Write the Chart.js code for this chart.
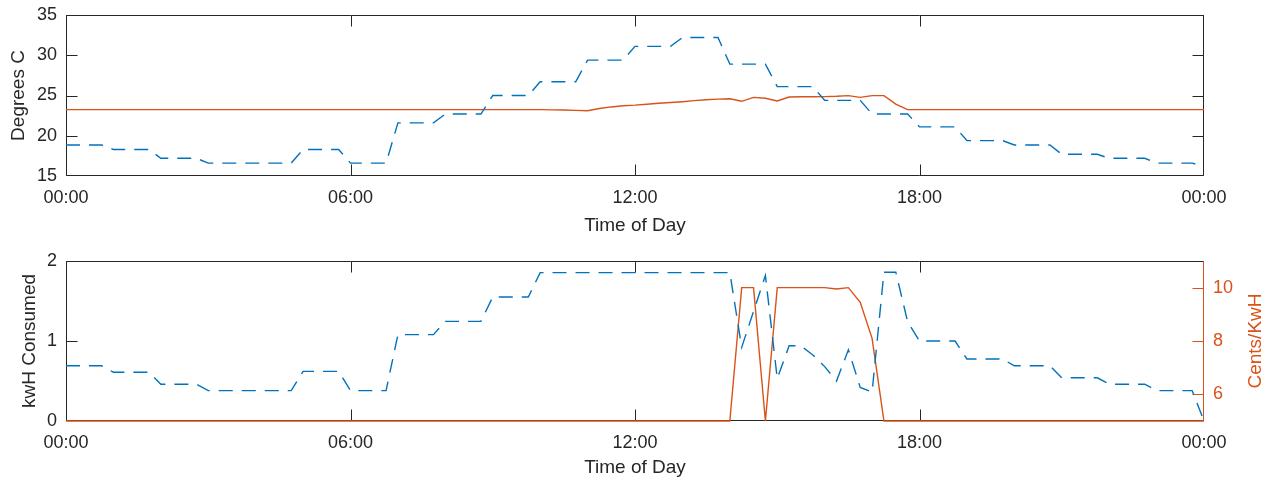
<!DOCTYPE html>
<html>
<head>
<meta charset="utf-8">
<title>Temperature, consumption and price over a day</title>
<script src="https://cdn.jsdelivr.net/npm/chart.js@4.4.1/dist/chart.umd.min.js"></script>
<style>
  html, body { margin: 0; padding: 0; background: #fff; }
  .panel { position: absolute; left: 0; width: 1271px; }
  #topPanel { top: 0; height: 240px; }
  #bottomPanel { top: 240px; height: 243px; }
</style>
</head>
<body>
<div class="panel" id="topPanel"><canvas id="tempChart"></canvas></div>
<div class="panel" id="bottomPanel"><canvas id="energyChart"></canvas></div>
<script>
/* ─── DATA (15-minute samples, 00:00 → 24:00) ─── */
const timeTicks = ['00:00', '06:00', '12:00', '18:00', '00:00'];
const priceTicks = [6, 8, 10];

// outdoor temperature, degrees C (blue dashed, top)
const outdoorTemp = [
  18.85, 18.85, 18.85, 18.85, 18.3, 18.3, 18.3, 18.3,     // 00-02
  17.2, 17.2, 17.2, 17.2, 16.6, 16.6, 16.6, 16.6,         // 02-04
  16.6, 16.6, 16.6, 16.6, 18.3, 18.3, 18.3, 18.3,         // 04-06
  16.6, 16.6, 16.6, 16.6, 21.6, 21.6, 21.6, 21.6,         // 06-08
  22.7, 22.7, 22.7, 22.7, 25.0, 25.0, 25.0, 25.0,         // 08-10
  26.7, 26.7, 26.7, 26.7, 29.4, 29.4, 29.4, 29.4,         // 10-12
  31.1, 31.1, 31.1, 31.1, 32.2, 32.2, 32.2, 32.2,         // 12-14
  28.9, 28.9, 28.9, 28.9, 26.1, 26.1, 26.1, 26.1,         // 14-16
  24.4, 24.4, 24.4, 24.4, 22.7, 22.7, 22.7, 22.7,         // 16-18
  21.1, 21.1, 21.1, 21.1, 19.4, 19.4, 19.4, 19.4,         // 18-20
  18.85, 18.85, 18.85, 18.85, 17.7, 17.7, 17.7, 17.7,     // 20-22
  17.2, 17.2, 17.2, 17.2, 16.6, 16.6, 16.6, 16.6,         // 22-24
  16.2
];

// indoor temperature, degrees C (orange solid, top)
const indoorTemp = [
  23.25, 23.25, 23.25, 23.25, 23.25, 23.25, 23.25, 23.25, // 00-02
  23.25, 23.25, 23.25, 23.25, 23.25, 23.25, 23.25, 23.25, // 02-04
  23.25, 23.25, 23.25, 23.25, 23.25, 23.25, 23.25, 23.25, // 04-06
  23.25, 23.25, 23.25, 23.25, 23.25, 23.25, 23.25, 23.25, // 06-08
  23.25, 23.25, 23.25, 23.25, 23.25, 23.25, 23.25, 23.25, // 08-10
  23.25, 23.22, 23.19, 23.15, 23.11, 23.38, 23.58, 23.72, // 10-12
  23.8, 23.92, 24.03, 24.13, 24.23, 24.36, 24.47, 24.55,  // 12-14
  24.6, 24.28, 24.77, 24.65, 24.32, 24.81, 24.84, 24.85,  // 14-16
  24.86, 24.9, 24.98, 24.77, 24.98, 24.98, 23.94, 23.25,  // 16-18
  23.25, 23.25, 23.25, 23.25, 23.25, 23.25, 23.25, 23.25, // 18-20
  23.25, 23.25, 23.25, 23.25, 23.25, 23.25, 23.25, 23.25, // 20-22
  23.25, 23.25, 23.25, 23.25, 23.25, 23.25, 23.25, 23.25, // 22-24
  23.25
];

// energy consumed, kWh (blue dashed, bottom, left axis)
const kwhConsumed = [
  0.69, 0.69, 0.69, 0.69, 0.61, 0.61, 0.61, 0.61,         // 00-02
  0.46, 0.46, 0.46, 0.46, 0.38, 0.38, 0.38, 0.38,         // 02-04
  0.38, 0.38, 0.38, 0.38, 0.62, 0.62, 0.62, 0.62,         // 04-06
  0.38, 0.38, 0.38, 0.38, 1.08, 1.08, 1.08, 1.08,         // 06-08
  1.245, 1.245, 1.245, 1.245, 1.55, 1.55, 1.55, 1.55,     // 08-10
  1.855, 1.855, 1.855, 1.855, 1.855, 1.855, 1.855, 1.855, // 10-12
  1.855, 1.855, 1.855, 1.855, 1.855, 1.855, 1.855, 1.855, // 12-14
  1.855, 0.92, 1.37, 1.82, 0.53, 0.94, 0.94, 0.825,       // 14-16
  0.68, 0.5, 0.89, 0.42, 0.36, 1.86, 1.86, 1.24,          // 16-18
  1.0, 1.0, 1.0, 1.0, 0.775, 0.775, 0.775, 0.775,         // 18-20
  0.69, 0.69, 0.69, 0.69, 0.54, 0.54, 0.54, 0.54,         // 20-22
  0.46, 0.46, 0.46, 0.46, 0.38, 0.38, 0.38, 0.38,         // 22-24
  0
];

// electricity price, cents/kWh (orange solid, bottom, right axis)
const priceCents = [
  5, 5, 5, 5, 5, 5, 5, 5,           // 00-02
  5, 5, 5, 5, 5, 5, 5, 5,           // 02-04
  5, 5, 5, 5, 5, 5, 5, 5,           // 04-06
  5, 5, 5, 5, 5, 5, 5, 5,           // 06-08
  5, 5, 5, 5, 5, 5, 5, 5,           // 08-10
  5, 5, 5, 5, 5, 5, 5, 5,           // 10-12
  5, 5, 5, 5, 5, 5, 5, 5,           // 12-14
  5, 10, 10, 5, 10, 10, 10, 10,     // 14-16
  10, 9.95, 10, 9.45, 8.1, 5, 5, 5, // 16-18
  5, 5, 5, 5, 5, 5, 5, 5,           // 18-20
  5, 5, 5, 5, 5, 5, 5, 5,           // 20-22
  5, 5, 5, 5, 5, 5, 5, 5,           // 22-24
  5
];

/* ─── STYLE ─── */
const BLUE = '#0072BD';
const ORANGE = '#D95319';
const AXIS_COLOR = '#262626';
const TICK_SIZE = 18;
const LABEL_SIZE = 19;
const DASH = [14, 9];

Chart.defaults.font.family = "'Liberation Sans', Arial, Helvetica, sans-serif";
Chart.defaults.color = AXIS_COLOR;

// sample index -> hour of day (one sample every 15 min)
const toPoints = arr => arr.map((v, i) => ({ x: i / 4, y: v }));

// fixed axis width; drop the label half-height padding so layout.padding rules
const fixWidth = w => s => { s.width = w; s.paddingTop = 0; s.paddingBottom = 0; };

/* ─── Box, inward ticks and rotated right label (MATLAB look) ─── */
const boxTicks = {
  id: 'boxTicks',
  beforeDatasetsDraw(chart, args, opts) {
    const { ctx, chartArea: a, scales } = chart;
    const len = 11;
    const L = Math.round(a.left) + 0.5, R = Math.round(a.right) - 0.5;
    const T = Math.round(a.top) + 0.5, B = Math.round(a.bottom) - 0.5;
    const clampX = v => Math.min(Math.max(Math.round(v) + 0.5, L), R);
    const clampY = v => Math.min(Math.max(Math.round(v) + 0.5, T), B);
    ctx.save();
    ctx.lineWidth = 1;
    ctx.strokeStyle = AXIS_COLOR;
    ctx.beginPath();
    ctx.moveTo(L, T); ctx.lineTo(R, T);
    ctx.moveTo(L, B); ctx.lineTo(R, B);
    ctx.moveTo(L, T); ctx.lineTo(L, B);
    if (!opts.rightAxis) { ctx.moveTo(R, T); ctx.lineTo(R, B); }
    scales.x.ticks.forEach(t => {
      const px = clampX(scales.x.getPixelForValue(t.value));
      ctx.moveTo(px, B); ctx.lineTo(px, B - len);
      ctx.moveTo(px, T); ctx.lineTo(px, T + len);
    });
    scales.y.ticks.forEach(t => {
      const py = clampY(scales.y.getPixelForValue(t.value));
      ctx.moveTo(L, py); ctx.lineTo(L + len, py);
      if (!opts.rightAxis) { ctx.moveTo(R, py); ctx.lineTo(R - len, py); }
    });
    ctx.stroke();

    if (opts.rightAxis) {
      const s = scales[opts.rightAxis];
      ctx.strokeStyle = ORANGE;
      ctx.beginPath();
      ctx.moveTo(R, T); ctx.lineTo(R, B);
      s.ticks.forEach(t => {
        const py = clampY(s.getPixelForValue(t.value));
        ctx.moveTo(R, py); ctx.lineTo(R - len, py);
      });
      ctx.stroke();
      // right label reads bottom-to-top like the left one
      ctx.fillStyle = ORANGE;
      ctx.font = `${LABEL_SIZE}px ${Chart.defaults.font.family}`;
      ctx.textAlign = 'center';
      ctx.textBaseline = 'middle';
      ctx.translate(s.right - opts.titleOffset, (a.top + a.bottom) / 2);
      ctx.rotate(-Math.PI / 2);
      ctx.fillText(opts.rightTitle, 0, 0);
    }
    ctx.restore();
  }
};

function timeAxis(height, titlePad) {
  return {
    type: 'linear',
    min: 0, max: 24,
    grid: { display: false, drawTicks: false },
    border: { display: false },
    ticks: {
      stepSize: 6, padding: 11, maxRotation: 0, autoSkip: false,
      color: AXIS_COLOR, font: { size: TICK_SIZE },
      callback: (v, i) => timeTicks[i]
    },
    title: {
      display: true, text: 'Time of Day', color: AXIS_COLOR,
      font: { size: LABEL_SIZE }, padding: { top: 0, bottom: titlePad }
    },
    afterFit: s => { s.height = height; }
  };
}

const baseOptions = {
  responsive: true,
  maintainAspectRatio: false,
  animation: false,
  events: [],
  plugins: { legend: { display: false }, tooltip: { enabled: false } },
  elements: { point: { radius: 0 }, line: { tension: 0 } }
};

/* ─── 1. TEMPERATURE ─── */
new Chart(document.getElementById('tempChart'), {
  type: 'line',
  data: {
    datasets: [
      {
        label: 'Outdoor',
        data: toPoints(outdoorTemp),
        borderColor: BLUE, borderWidth: 1.4, borderDash: DASH, clip: 3
      },
      {
        label: 'Indoor',
        data: toPoints(indoorTemp),
        borderColor: ORANGE, borderWidth: 1.4, clip: 3
      }
    ]
  },
  options: {
    ...baseOptions,
    layout: { padding: { top: 15, right: 67, left: 0, bottom: 0 } },
    plugins: { ...baseOptions.plugins, boxTicks: {} },
    scales: {
      x: timeAxis(64, 3),
      y: {
        min: 15, max: 35,
        grid: { display: false, drawTicks: false },
        border: { display: false },
        ticks: { stepSize: 5, padding: 9, color: AXIS_COLOR, font: { size: TICK_SIZE } },
        title: {
          display: true, text: 'Degrees C', color: AXIS_COLOR,
          font: { size: LABEL_SIZE }, padding: { top: 7, bottom: 0 }
        },
        afterFit: fixWidth(66)
      }
    }
  },
  plugins: [boxTicks]
});

/* ─── 2. CONSUMPTION & PRICE ─── */
new Chart(document.getElementById('energyChart'), {
  type: 'line',
  data: {
    datasets: [
      {
        label: 'kwH Consumed',
        data: toPoints(kwhConsumed),
        yAxisID: 'y',
        borderColor: BLUE, borderWidth: 1.4, borderDash: DASH, clip: 3
      },
      {
        label: 'Cents/KwH',
        data: toPoints(priceCents),
        yAxisID: 'y1',
        borderColor: ORANGE, borderWidth: 1.4, clip: 3
      }
    ]
  },
  options: {
    ...baseOptions,
    layout: { padding: { top: 21, right: 0, left: 0, bottom: 0 } },
    plugins: {
      ...baseOptions.plugins,
      boxTicks: { rightAxis: 'y1', rightTitle: 'Cents/KwH', titleOffset: 15 }
    },
    scales: {
      x: timeAxis(62, 4),
      y: {
        position: 'left',
        min: 0, max: 2,
        grid: { display: false, drawTicks: false },
        border: { display: false },
        ticks: { stepSize: 1, padding: 9, color: AXIS_COLOR, font: { size: TICK_SIZE } },
        title: {
          display: true, text: 'kwH Consumed', color: AXIS_COLOR,
          font: { size: LABEL_SIZE }, padding: { top: 18, bottom: 0 }
        },
        afterFit: fixWidth(66)
      },
      y1: {
        position: 'right',
        min: 5, max: 11,
        grid: { display: false, drawTicks: false },
        border: { display: false },
        afterBuildTicks: s => { s.ticks = priceTicks.map(v => ({ value: v })); },
        ticks: { padding: 9, color: ORANGE, font: { size: TICK_SIZE } },
        title: { display: false },
        afterFit: fixWidth(67)
      }
    }
  },
  plugins: [boxTicks]
});
</script>
</body>
</html>
